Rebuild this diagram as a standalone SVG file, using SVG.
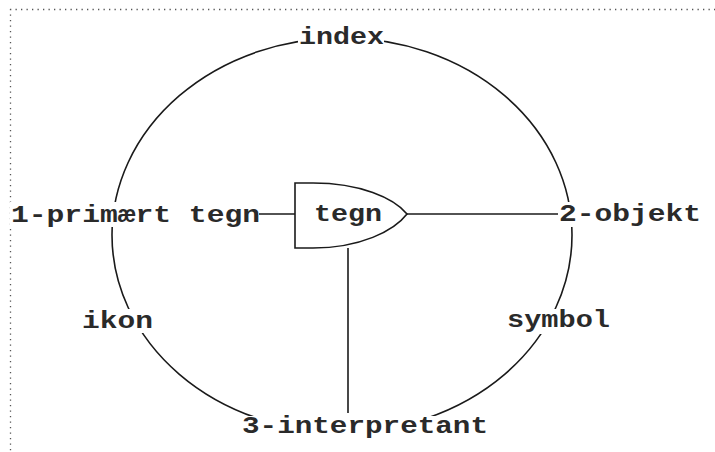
<svg xmlns="http://www.w3.org/2000/svg" width="715" height="452" viewBox="0 0 715 452">
<style>
.bg{fill:#ffffff}
.ln{fill:none;stroke:#1a1a1a;stroke-width:1.6}
.lbl{font-family:"Liberation Mono","DejaVu Sans Mono",monospace;font-weight:bold;font-size:23px;fill:#2a2a2a}
.mask{fill:#ffffff}
.dot{fill:none;stroke:#555;stroke-width:1.3;stroke-dasharray:1.3 4.2}
</style>
<rect class="bg" x="0" y="0" width="715" height="452"/>
<g id="frame">
<path class="dot" d="M10,9.5 H715 M10.5,9 V452"/>
</g>
<g id="circle">
<ellipse class="ln" cx="342" cy="235" rx="230" ry="197"/>
</g>
<g id="connectors">
<line class="ln" x1="258" y1="214" x2="295" y2="214"/>
<line class="ln" x1="407" y1="214" x2="560" y2="214"/>
<line class="ln" x1="348" y1="248" x2="348" y2="413"/>
</g>
<g id="tegn-node">
<path class="ln" style="fill:#fff" d="M295,183 H313 C360,183 394,198 407,214 C394,231 360,248 313,248 H295 Z"/>
<text class="lbl" x="314" y="221" textLength="68" lengthAdjust="spacingAndGlyphs">tegn</text>
</g>
<g id="index">
<rect class="mask" x="298" y="29" width="86" height="18"/>
<text class="lbl" x="299" y="44" textLength="85" lengthAdjust="spacingAndGlyphs">index</text>
</g>
<g id="primaert-tegn">
<rect class="mask" x="10" y="202" width="249" height="25"/>
<text class="lbl" x="11" y="222" textLength="249" lengthAdjust="spacingAndGlyphs">1-primært tegn</text>
</g>
<g id="objekt">
<rect class="mask" x="558" y="202" width="144" height="25"/>
<text class="lbl" x="559" y="221" textLength="142" lengthAdjust="spacingAndGlyphs">2-objekt</text>
</g>
<g id="ikon">
<rect class="mask" x="80" y="309" width="72" height="24"/>
<text class="lbl" x="82" y="328" textLength="71" lengthAdjust="spacingAndGlyphs">ikon</text>
</g>
<g id="symbol">
<rect class="mask" x="505" y="309" width="106" height="25"/>
<text class="lbl" x="507" y="327" textLength="103" lengthAdjust="spacingAndGlyphs">symbol</text>
</g>
<g id="interpretant">
<rect class="mask" x="240" y="416" width="248" height="24"/>
<text class="lbl" x="242" y="433" textLength="246" lengthAdjust="spacingAndGlyphs">3-interpretant</text>
</g>
</svg>
